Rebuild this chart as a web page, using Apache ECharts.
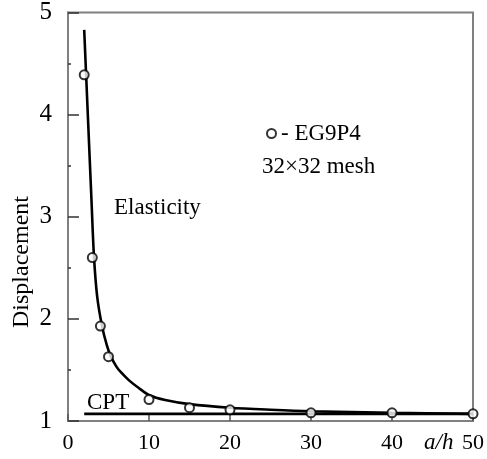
<!DOCTYPE html>
<html>
<head>
<meta charset="utf-8">
<script src="https://cdn.jsdelivr.net/npm/echarts@6/dist/echarts.min.js"></script>
<style>
html,body{margin:0;padding:0;background:#fff;}
#chart{width:487px;height:459px;}
</style>
</head>
<body>
<div id="chart"></div>
<script>
// Elasticity curve (a/h, displacement)
var elasticityX = [2, 2.5, 2.9, 3.2, 3.6, 4.2, 4.8, 5.3, 6.0, 6.5, 7.5, 8.7, 10, 12, 15, 20, 25, 30, 40, 50];
var elasticityY = [4.83, 3.90, 3.16, 2.62, 2.22, 1.93, 1.74, 1.63, 1.53, 1.48, 1.40, 1.325, 1.255, 1.205, 1.165, 1.13, 1.11, 1.095, 1.08, 1.07];
// CPT line
var cptX = [2, 50];
var cptY = [1.07, 1.07];
// EG9P4 32x32 mesh points
var eg9p4X = [2, 3, 4, 5, 10, 15, 20, 30, 40, 50];
var eg9p4Y = [4.39, 2.60, 1.93, 1.63, 1.21, 1.13, 1.11, 1.08, 1.08, 1.07];
var xTicks = [0, 10, 20, 30, 40, 50];
var yTicks = [1, 2, 3, 4, 5];

function zip(a, b) { return a.map(function (v, i) { return [v, b[i]]; }); }

var serif = '"Liberation Serif", "DejaVu Serif", serif';
var chart = echarts.init(document.getElementById('chart'), null, {renderer: 'canvas'});
chart.setOption({
  animation: false,
  backgroundColor: '#fff',
  grid: {left: 68, top: 12, right: 8, bottom: 38, show: true, borderColor: '#808080', borderWidth: 2, backgroundColor: 'transparent'},
  xAxis: {
    type: 'value', min: xTicks[0], max: xTicks[xTicks.length - 1], interval: 10,
    axisLine: {lineStyle: {color: '#808080', width: 2}},
    axisTick: {inside: true, length: 7, lineStyle: {color: '#555', width: 1.5}},
    axisLabel: {color: '#000', fontSize: 22, fontFamily: serif, margin: 11},
    splitLine: {show: false}
  },
  yAxis: {
    type: 'value', min: yTicks[0], max: yTicks[yTicks.length - 1], interval: 1,
    axisLine: {lineStyle: {color: '#808080', width: 2}},
    axisTick: {inside: true, length: 11, lineStyle: {color: '#333', width: 1.5}},
    minorTick: {show: true, splitNumber: 2, length: 3, lineStyle: {color: '#333', width: 1.5}},
    axisLabel: {color: '#000', fontSize: 25, fontFamily: serif, margin: 16},
    splitLine: {show: false}
  },
  legend: {
    show: true, left: 261, top: 117, itemWidth: 9, itemHeight: 9, itemGap: 4,
    data: [{name: 'EG9P4', icon: 'emptyCircle'}],
    formatter: function (n) { return '- ' + n; },
    textStyle: {color: '#000', fontSize: 23, fontFamily: serif, padding: [0, 0, 0, 0]}
  },
  series: [
    {name: 'Elasticity', type: 'line', data: zip(elasticityX, elasticityY), smooth: 0.3, showSymbol: false,
     lineStyle: {color: '#000', width: 2.6}, z: 3},
    {name: 'CPT', type: 'line', data: zip(cptX, cptY), showSymbol: false,
     lineStyle: {color: '#000', width: 2.6}, z: 3},
    {name: 'EG9P4', type: 'scatter', data: zip(eg9p4X, eg9p4Y), symbol: 'emptyCircle', symbolSize: 9,
     itemStyle: {color: '#000', borderColor: '#000', borderWidth: 1.2}, z: 4}
  ],
  graphic: [
    {type: 'text', x: 22, y: 262, rotation: Math.PI / 2,
     style: {text: 'Displacement', fill: '#000', font: '24px ' + serif, textAlign: 'center', textVerticalAlign: 'middle'}},
    {type: 'text', left: 114, top: 196, style: {text: 'Elasticity', fill: '#000', font: '23px ' + serif}},
    {type: 'text', left: 87, top: 391, style: {text: 'CPT', fill: '#000', font: '23px ' + serif}},
    {type: 'text', left: 262, top: 155, style: {text: '32×32 mesh', fill: '#000', font: '23px ' + serif}},
    {type: 'text', left: 424, top: 431, style: {text: 'a/h', fill: '#000', font: 'italic 23px ' + serif}}
  ]
});
</script>
</body>
</html>
